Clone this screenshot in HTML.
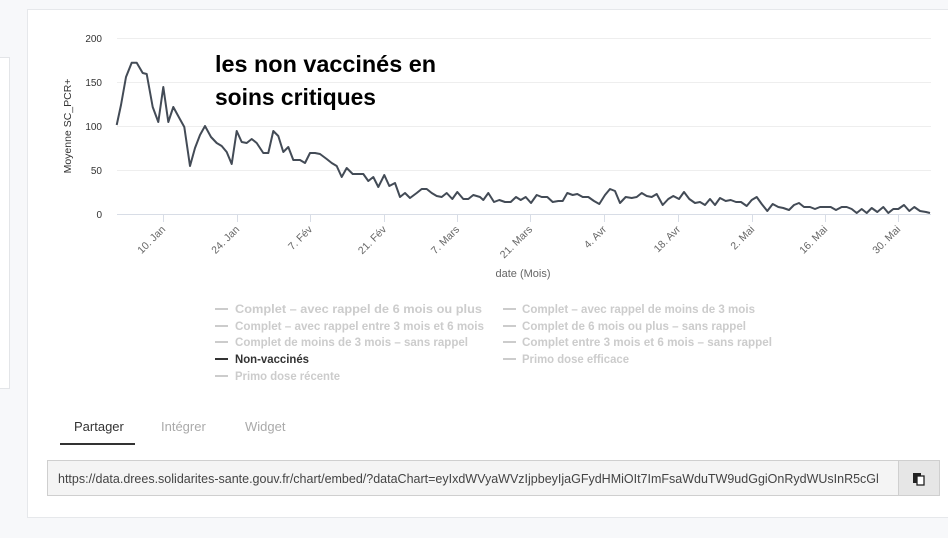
<!DOCTYPE html>
<html><head><meta charset="utf-8"><style>
body{margin:0;width:948px;height:538px;background:#f7f8fa;position:relative;overflow:hidden;font-family:"Liberation Sans",sans-serif}
.lp{position:absolute;left:-2px;top:57px;width:10px;height:330px;background:#fff;border:1px solid #e3e5e8}
.card{position:absolute;left:27px;top:9px;width:930px;height:507px;background:#fff;border:1px solid #e6e8eb}
.tab{position:absolute;top:419px;font-size:13px;color:#aaa}
.inp{position:absolute;left:47px;top:460px;width:851px;height:36px;background:#f4f4f4;border:1px solid #cfcfcf;font-size:12.5px;color:#444;line-height:36px;padding-left:10px;box-sizing:border-box;white-space:nowrap;overflow:hidden;width:852px}
.btn{position:absolute;left:898px;top:460px;width:42px;height:36px;background:#e6e6e6;border:1px solid #cfcfcf;box-sizing:border-box}
</style></head><body>
<div class="lp"></div>
<div class="card"></div>
<svg width="948" height="538" style="position:absolute;left:0;top:0">
<g stroke="#eeeeee" stroke-width="1">
<line x1="117" x2="931" y1="38.5" y2="38.5"/><line x1="117" x2="931" y1="82.5" y2="82.5"/><line x1="117" x2="931" y1="126.5" y2="126.5"/><line x1="117" x2="931" y1="170.5" y2="170.5"/>
</g>
<line x1="117" x2="931" y1="214.5" y2="214.5" stroke="#d8dde6"/>
<g stroke="#d8dde6">
<line x1="163.5" x2="163.5" y1="214" y2="222"/><line x1="237.5" x2="237.5" y1="214" y2="222"/><line x1="310.5" x2="310.5" y1="214" y2="222"/><line x1="384.5" x2="384.5" y1="214" y2="222"/><line x1="457.5" x2="457.5" y1="214" y2="222"/><line x1="530.5" x2="530.5" y1="214" y2="222"/><line x1="604.5" x2="604.5" y1="214" y2="222"/><line x1="678.5" x2="678.5" y1="214" y2="222"/><line x1="752.5" x2="752.5" y1="214" y2="222"/><line x1="825.5" x2="825.5" y1="214" y2="222"/><line x1="898.5" x2="898.5" y1="214" y2="222"/>
</g>
<g font-size="10" fill="#333" text-anchor="end">
<text x="102" y="42">200</text><text x="102" y="86">150</text><text x="102" y="130">100</text><text x="102" y="174">50</text><text x="102" y="218">0</text>
</g>
<text transform="translate(71,126) rotate(-90)" font-size="10.5" fill="#333" text-anchor="middle">Moyenne SC_PCR+</text>
<g font-size="10.5" fill="#666" text-anchor="end">
<text transform="translate(166,230) rotate(-45)">10. Jan</text>
<text transform="translate(240,230) rotate(-45)">24. Jan</text>
<text transform="translate(313,230) rotate(-45)">7. Fév</text>
<text transform="translate(387,230) rotate(-45)">21. Fév</text>
<text transform="translate(460,230) rotate(-45)">7. Mars</text>
<text transform="translate(533,230) rotate(-45)">21. Mars</text>
<text transform="translate(607,230) rotate(-45)">4. Avr</text>
<text transform="translate(681,230) rotate(-45)">18. Avr</text>
<text transform="translate(755,230) rotate(-45)">2. Mai</text>
<text transform="translate(828,230) rotate(-45)">16. Mai</text>
<text transform="translate(901,230) rotate(-45)">30. Mai</text>
</g>
<text x="523" y="277" font-size="11" fill="#666" text-anchor="middle">date (Mois)</text>
<polyline fill="none" stroke="#434b56" stroke-width="2" stroke-linejoin="round" points="116.7,125 121,105 126,77 131.7,62.7 136.7,62.7 142.7,73 146.7,74 152.7,107 158.3,122 163.3,87 168.3,122 173.3,107 179.3,118 184.3,127 190,166 195,148 200,135 205,126 211,137 216.7,143 221.7,146 226.7,152 231.7,164 236.7,131 241.7,142 246.7,143 251.7,139 256.7,143 263.3,153 268.3,153 273.3,131 278.3,136 283.3,152 288.3,147 293.3,160 300,160 305,163 310,153 315,153 320,154 326.7,159 331.7,163 336.7,166 341.7,177 346.7,168 352.7,174 358.3,174 363.3,174 368.3,181 373.3,177 378.3,187 384.3,175 389.3,186 395,183 400,197 405,193 410,198 416.7,193 421.7,189 426.7,189 431.7,193 436.7,196 441.7,197 446.7,193 452.3,199 457.3,192 463.3,199 468.3,199 473.3,195 480,197 483.3,200 488.3,193 494,202 499.3,200 505,202 510.7,202 516,197 520.7,200 525.7,197 531,203 536.7,195 541.7,197 547.3,197 552.7,202 558.3,201 562.7,201 567.3,193 572.7,195 577.3,194 582.7,197 588.3,197 594,201 599.3,204 605,195 610,189 615,191 620,203 625.7,197 631.7,198 636.7,197 641.7,193 646.7,196 651.7,197 656.7,194 662.7,205 668.3,199 673.3,196 679,199 684,192 689.3,199 695,203 700,202 705,205 710,199 715,205 720,198 725.7,201 730.7,200 736,202 741,202 746.7,206 751.7,200 756.7,197 761.7,204 767.3,211 772.7,204 778.3,207 783.3,208 789,210 794,205 799,203 804,207 810,207 815,209 820,207 825,207 830.7,207 836,210 841.7,207 846.7,207 851.7,209 856.7,213 861.7,209 866.7,213 871.7,208 877.3,212 883.3,207 888.3,213 893.3,209 898.3,209 904,205 909.3,211 914.3,207 920,211 926,212 930,213"/>
<g font-weight="bold" font-size="23" fill="#000">
<text x="215" y="72" textLength="221" lengthAdjust="spacingAndGlyphs">les non  vaccinés en</text>
<text x="215" y="105" textLength="161" lengthAdjust="spacingAndGlyphs">soins critiques</text>
</g>
<g font-size="12" font-weight="bold" fill="#cccccc">
<g stroke="#cccccc" stroke-width="2"><line x1="215" x2="228" y1="309" y2="309"/><line x1="215" x2="228" y1="326" y2="326"/><line x1="215" x2="228" y1="342" y2="342"/><line x1="215" x2="228" y1="376" y2="376"/><line x1="503" x2="516" y1="309" y2="309"/><line x1="503" x2="516" y1="326" y2="326"/><line x1="503" x2="516" y1="342" y2="342"/><line x1="503" x2="516" y1="359" y2="359"/></g>
<line x1="215" x2="228" y1="359" y2="359" stroke="#333" stroke-width="2"/>
<text x="235" y="313" textLength="247" lengthAdjust="spacingAndGlyphs">Complet – avec rappel de 6 mois ou plus</text>
<text x="235" y="330" textLength="249" lengthAdjust="spacingAndGlyphs">Complet – avec rappel entre 3 mois et 6 mois</text>
<text x="235" y="346" textLength="233" lengthAdjust="spacingAndGlyphs">Complet de moins de 3 mois – sans rappel</text>
<text x="235" y="363" fill="#333" textLength="74" lengthAdjust="spacingAndGlyphs">Non-vaccinés</text>
<text x="235" y="380" textLength="105" lengthAdjust="spacingAndGlyphs">Primo dose récente</text>
<text x="522" y="313" textLength="233" lengthAdjust="spacingAndGlyphs">Complet – avec rappel de moins de 3 mois</text>
<text x="522" y="330" textLength="224" lengthAdjust="spacingAndGlyphs">Complet de 6 mois ou plus – sans rappel</text>
<text x="522" y="346" textLength="250" lengthAdjust="spacingAndGlyphs">Complet entre 3 mois et 6 mois – sans rappel</text>
<text x="522" y="363" textLength="107" lengthAdjust="spacingAndGlyphs">Primo dose efficace</text>
</g>
<rect x="60" y="443" width="75" height="2" fill="#333"/>
</svg>
<div class="tab" style="left:74px;color:#333">Partager</div>
<div class="tab" style="left:161px">Intégrer</div>
<div class="tab" style="left:245px">Widget</div>
<div class="inp">https://data.drees.solidarites-sante.gouv.fr/chart/embed/?dataChart=eyIxdWVyaWVzIjpbeyIjaGFydHMiOIt7ImFsaWduTW9udGgiOnRydWUsInR5cGl</div>
<div class="btn"><svg width="40" height="34"><rect x="14" y="12" width="8" height="10" fill="#222"/><rect x="18" y="15" width="7" height="9" fill="#fff" stroke="#222" stroke-width="1.3"/></svg></div>
</body></html>
